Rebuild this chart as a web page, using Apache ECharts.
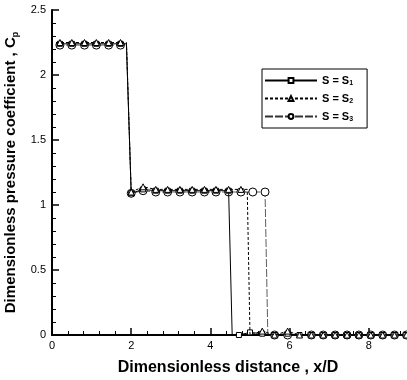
<!DOCTYPE html>
<html>
<head>
<meta charset="utf-8">
<script src="https://cdn.jsdelivr.net/npm/echarts@6/dist/echarts.min.js"></script>
<style>
html,body{margin:0;padding:0;background:#fff;}
#c{width:407px;height:380px;}
</style>
</head>
<body>
<div id="c"></div>
<script>
// ---- data ----
const seriesNames = ['S1', 'S2', 'S3'];
const xS1 = [0.1, 0.2, 0.5, 0.82, 1.12, 1.43, 1.73, 1.88, 2.0, 2.3, 2.62, 2.92, 3.23, 3.54, 3.85, 4.14, 4.46, 4.55, 4.72, 5.0, 5.31, 5.62, 5.95, 6.25, 6.55, 6.85, 7.15, 7.45, 7.75, 8.05, 8.35, 8.65, 8.95];
const yS1 = [2.24, 2.24, 2.24, 2.24, 2.24, 2.24, 2.24, 2.24, 1.09, 1.12, 1.11, 1.11, 1.11, 1.11, 1.11, 1.11, 1.11, 0.0, 0.0, 0.02, 0.01, 0.0, 0.01, 0.0, 0.0, 0.0, 0.0, 0.0, 0.0, 0.0, 0.0, 0.0, 0.0];
const xS2 = [0.1, 0.2, 0.5, 0.82, 1.12, 1.43, 1.73, 1.88, 2.0, 2.3, 2.62, 2.92, 3.23, 3.54, 3.85, 4.14, 4.46, 4.77, 4.93, 5.0, 5.31, 5.62, 5.95, 6.25, 6.55, 6.85, 7.15, 7.45, 7.75, 8.05, 8.35, 8.65, 8.95];
const yS2 = [2.25, 2.25, 2.25, 2.25, 2.25, 2.25, 2.25, 2.25, 1.10, 1.14, 1.12, 1.12, 1.12, 1.12, 1.12, 1.12, 1.12, 1.12, 1.12, 0.0, 0.03, 0.0, 0.03, 0.0, 0.0, 0.0, 0.0, 0.0, 0.0, 0.0, 0.0, 0.0, 0.0];
const xS3 = [0.1, 0.2, 0.5, 0.82, 1.12, 1.43, 1.73, 1.88, 2.0, 2.3, 2.62, 2.92, 3.23, 3.54, 3.85, 4.14, 4.46, 4.77, 5.07, 5.38, 5.45, 5.62, 5.95, 6.25, 6.55, 6.85, 7.15, 7.45, 7.75, 8.05, 8.35, 8.65, 8.95];
const yS3 = [2.23, 2.23, 2.23, 2.23, 2.23, 2.23, 2.23, 2.23, 1.09, 1.11, 1.10, 1.10, 1.10, 1.10, 1.10, 1.10, 1.10, 1.10, 1.10, 1.10, 0.0, 0.0, 0.0, -0.01, 0.0, 0.0, 0.0, 0.0, 0.0, 0.0, 0.0, 0.0, 0.0];
// x positions of line corners that carry no marker
const cornerS1 = [0.1, 1.88, 4.55];
const cornerS2 = [0.1, 1.88, 4.93, 5.0];
const cornerS3 = [0.1, 1.88, 5.45];
const xTicks = [0, 2, 4, 6, 8];
const yTicks = [0, 0.5, 1, 1.5, 2, 2.5];

function build(xs, ys, corners) {
  return xs.map((x, i) => {
    const d = { value: [x, ys[i]] };
    if (corners.indexOf(x) >= 0) d.symbol = 'none';
    return d;
  });
}

const FONT = 'Liberation Sans';
const chart = echarts.init(document.getElementById('c'), null, { renderer: 'canvas' });
const mk = { color: '#fff', borderColor: '#000', borderWidth: 1 };

chart.setOption({
  animation: false,
  backgroundColor: '#fff',
  grid: { left: 52, top: 10, width: 396, height: 325, containLabel: false, outerBoundsMode: 'none' },
  legend: {
    left: 262, top: 69,
    orient: 'vertical',
    data: seriesNames,
    backgroundColor: '#fff',
    borderColor: '#000', borderWidth: 1, borderRadius: 0,
    padding: [6, 14, 5, 2],
    itemWidth: 52, itemHeight: 6, itemGap: 6,
    formatter: n => '{t|S = S}{s|' + n.slice(1) + '}',
    textStyle: {
      fontFamily: FONT, color: '#000',
      rich: {
        t: { fontFamily: FONT, fontWeight: 'bold', fontSize: 11, color: '#000' },
        s: { fontFamily: FONT, fontWeight: 'bold', fontSize: 7, color: '#000', padding: [6, 0, 0, 0] }
      }
    }
  },
  xAxis: {
    type: 'value', min: 0, max: 10, interval: 2,
    name: 'Dimensionless distance , x/D',
    nameLocation: 'middle', nameGap: 25,
    nameTextStyle: { fontFamily: FONT, fontWeight: 'bold', fontSize: 16, color: '#000', padding: [0, 44, 0, 0] },
    axisLine: { lineStyle: { color: '#000', width: 2 } },
    axisTick: { inside: true, length: 7, lineStyle: { color: '#000', width: 1.5 } },
    minorTick: { show: true, splitNumber: 5, length: 4, lineStyle: { color: '#000', width: 1 } },
    splitLine: { show: false },
    axisLabel: {
      fontFamily: FONT, fontSize: 11, color: '#000', margin: 5,
      formatter: v => (xTicks.indexOf(v) >= 0 ? String(v) : '')
    }
  },
  yAxis: {
    type: 'value', min: 0, max: 2.5, interval: 0.5,
    name: '{t|Dimensionless pressure coefficient , C}{s|p}',
    nameLocation: 'middle', nameGap: 26, nameRotate: 90,
    nameTextStyle: {
      fontFamily: FONT, fontWeight: 'bold', fontSize: 15, color: '#000',
      rich: {
        t: { fontFamily: FONT, fontWeight: 'bold', fontSize: 15, color: '#000' },
        s: { fontFamily: FONT, fontWeight: 'bold', fontSize: 9, color: '#000', padding: [8, 0, 0, 0] }
      }
    },
    axisLine: { show: true, lineStyle: { color: '#000', width: 2 } },
    axisTick: { show: true, inside: true, length: 7, lineStyle: { color: '#000', width: 1.5 } },
    minorTick: { show: true, splitNumber: 5, length: 4, lineStyle: { color: '#000', width: 1 } },
    splitLine: { show: false },
    axisLabel: {
      fontFamily: FONT, fontSize: 11, color: '#000', margin: 6,
      formatter: v => (yTicks.indexOf(v) >= 0 ? String(v) : '')
    }
  },
  series: [
    {
      name: 'S1', type: 'line', data: build(xS1, yS1, cornerS1),
      symbol: 'rect', symbolSize: 5, showAllSymbol: true,
      lineStyle: { color: '#000', width: 1, type: 'solid' },
      itemStyle: mk, z: 3
    },
    {
      name: 'S2', type: 'line', data: build(xS2, yS2, cornerS2),
      symbol: 'triangle', symbolSize: 6, showAllSymbol: true,
      lineStyle: { color: '#000', width: 1, type: [3, 2] },
      itemStyle: mk, z: 4
    },
    {
      name: 'S3', type: 'line', data: build(xS3, yS3, cornerS3),
      symbol: 'circle', symbolSize: 8, showAllSymbol: true,
      lineStyle: { color: '#333', width: 0.8, type: [8, 2] },
      itemStyle: mk, z: 2
    }
  ]
});
</script>
</body>
</html>
